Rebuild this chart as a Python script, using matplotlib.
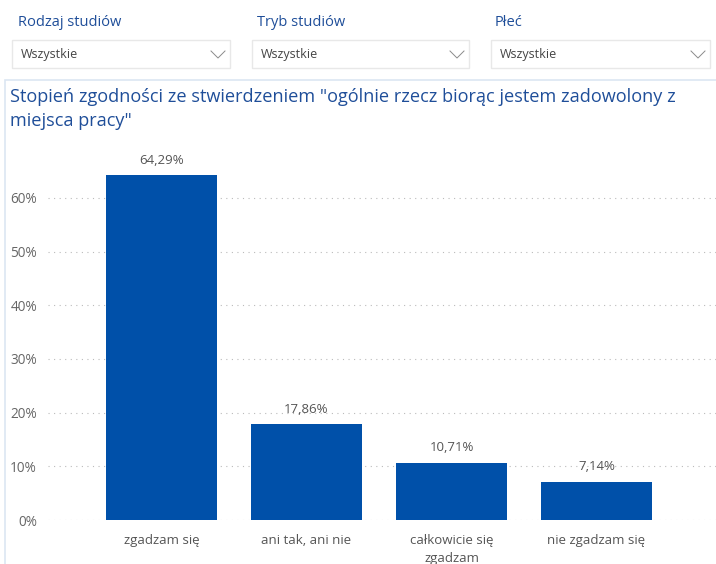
import matplotlib
matplotlib.use("Agg")
import matplotlib.pyplot as plt
from matplotlib.patches import Rectangle
from matplotlib.lines import Line2D

plt.rcParams['font.family'] = ['Open Sans', 'DejaVu Sans']

categories = ["zgadzam się", "ani tak, ani nie", "całkowicie się\nzgadzam", "nie zgadzam się"]
values = [64.29, 17.86, 10.71, 7.14]
value_labels = ["64,29%", "17,86%", "10,71%", "7,14%"]
yticks = [0, 10, 20, 30, 40, 50, 60]
ytick_labels = ["0%", "10%", "20%", "30%", "40%", "50%", "60%"]
filter_titles = ["Rodzaj studiów", "Tryb studiów", "Płeć"]
filter_values = ["Wszystkie", "Wszystkie", "Wszystkie"]
title = 'Stopień zgodności ze stwierdzeniem "ogólnie rzecz biorąc jestem zadowolony z\nmiejsca pracy"'

W, H = 716, 564
fig = plt.figure(figsize=(W / 100, H / 100), dpi=100)
fig.patch.set_facecolor("white")

def fx(x):
    return x / W

def fy(y):
    return 1 - y / H

blue_text = "#1F4E99"

# Filter slicers
box_x = [12, 252, 491]
box_w = [218, 217, 219]
label_x = [18, 257, 495]
for i in range(3):
    fig.text(fx(label_x[i]), fy(22), filter_titles[i], color=blue_text, fontsize=10.5,
             va="center", ha="left")
    fig.patches.append(Rectangle((fx(box_x[i]), fy(68)), fx(box_w[i]), 28 / H,
                                 transform=fig.transFigure, facecolor="white",
                                 edgecolor="#E8E8E8", linewidth=1))
    fig.text(fx(box_x[i] + 9), fy(55), filter_values[i], color="#444444", fontsize=9,
             va="center", ha="left")
    cx = box_x[i] + box_w[i] - 12
    fig.lines.append(Line2D([fx(cx - 7), fx(cx), fx(cx + 7)], [fy(51), fy(58), fy(51)],
                            transform=fig.transFigure, color="#8A8A8A", linewidth=0.7))

# Chart panel border
fig.patches.append(Rectangle((fx(5), fy(570)), fx(720), (570 - 80) / H,
                             transform=fig.transFigure, facecolor="none",
                             edgecolor="#DCE6F2", linewidth=1.2))

fig.text(fx(10), fy(109), title, color=blue_text, fontsize=13.1, va="center",
         ha="left", linespacing=1.38)

# Axes
ax_left, ax_right, ax_bottom, ax_top = 48, 716, 520, 150
ax = fig.add_axes([fx(ax_left), fy(ax_bottom), (ax_right - ax_left) / W,
                   (ax_bottom - ax_top) / H])
ax.set_facecolor("none")
x = list(range(len(categories)))
bars = ax.bar(x, values, width=0.766, color="#0050A9", zorder=3)
ax.bar_label(bars, labels=value_labels, padding=6, color="#555555", fontsize=9.5)
ax.set_xlim(-0.783, 3.824)
ax.set_ylim(0, (ax_bottom - ax_top) / 5.367)
ax.set_yticks(yticks)
ax.set_yticklabels(ytick_labels, color="#666666", fontsize=9.8)
ax.set_xticks(x)
ax.set_xticklabels(categories, color="#555555", fontsize=9.5, linespacing=1.5)
ax.tick_params(axis="both", length=0)
ax.tick_params(axis="x", pad=10)
ax.tick_params(axis="y", pad=8)
for s in ax.spines.values():
    s.set_visible(False)
ax.yaxis.grid(True, linestyle=(0, (1, 4)), color="#BBBBBB", linewidth=0.8, zorder=0)
ax.xaxis.grid(False)

fig.savefig("out.png", dpi=100, facecolor="white")
